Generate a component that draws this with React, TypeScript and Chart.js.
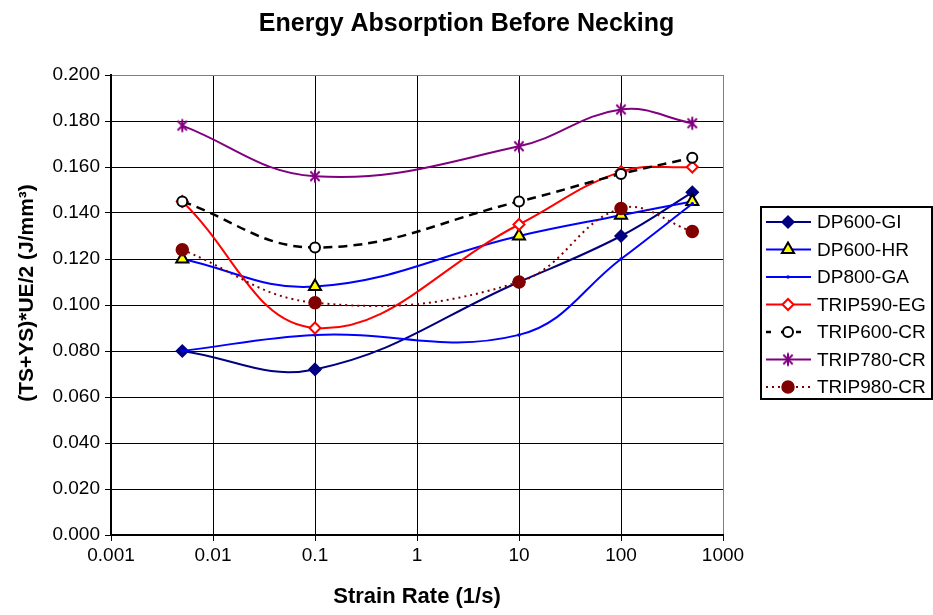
import React, { useEffect, useRef } from 'react';
import { Chart, registerables } from 'chart.js';
import { drawPoint } from 'chart.js/helpers';

Chart.register(...registerables);

const chartTitle = 'Energy Absorption Before Necking';
const xTitle = 'Strain Rate (1/s)';
const yTitle = '(TS+YS)*UE/2 (J/mm³)';

const strainRates = [0.005, 0.1, 10, 100, 500];
const seriesNames = ['DP600-GI', 'DP600-HR', 'DP800-GA', 'TRIP590-EG', 'TRIP600-CR', 'TRIP780-CR', 'TRIP980-CR'];
const dp600GI = [0.080, 0.072, 0.110, 0.130, 0.149];
const dp600HR = [0.120, 0.108, 0.130, 0.139, 0.145];
const dp800GA = [0.080, 0.087, 0.087, 0.120, 0.144];
const trip590EG = [0.145, 0.090, 0.135, 0.158, 0.160];
const trip600CR = [0.145, 0.125, 0.145, 0.157, 0.164];
const trip780CR = [0.178, 0.156, 0.169, 0.185, 0.179];
const trip980CR = [0.124, 0.101, 0.110, 0.142, 0.132];
const xTicks = [0.001, 0.01, 0.1, 1, 10, 100, 1000];
const yTicks = [0, 0.02, 0.04, 0.06, 0.08, 0.1, 0.12, 0.14, 0.16, 0.18, 0.2];

const FONT = '"Liberation Sans", Arial, sans-serif';

function makeStar(color: string, r: number) {
  const size = Math.ceil(r * 2 + 3);
  const c = document.createElement('canvas');
  c.width = size;
  c.height = size;
  const g = c.getContext('2d')!;
  g.strokeStyle = color;
  g.lineWidth = 2;
  const m = size / 2;
  const d = r * 0.72;
  g.beginPath();
  g.moveTo(m - d, m - d);
  g.lineTo(m + d, m + d);
  g.moveTo(m + d, m - d);
  g.lineTo(m - d, m + d);
  g.moveTo(m, m - r);
  g.lineTo(m, m + r);
  g.stroke();
  return c;
}

const decorPlugin = {
  id: 'customDecor',
  afterDraw(chart: any) {
    const ctx = chart.ctx as CanvasRenderingContext2D;
    ctx.save();
    // Title
    ctx.fillStyle = '#000';
    ctx.font = `bold 25px ${FONT}`;
    ctx.textAlign = 'center';
    ctx.textBaseline = 'middle';
    ctx.fillText(chartTitle, chart.width / 2, 24);

    // Y axis title
    ctx.save();
    ctx.translate(27, 293);
    ctx.rotate(-Math.PI / 2);
    ctx.font = `bold 21px ${FONT}`;
    ctx.fillText(yTitle, 0, 0);
    ctx.restore();

    // Legend box
    const bx = 761, by = 207, bw = 171, bh = 192;
    ctx.lineWidth = 2;
    ctx.strokeStyle = '#000';
    ctx.strokeRect(bx, by, bw, bh);
    const rowH = 27.5;
    chart.data.datasets.forEach((ds: any, i: number) => {
      const y = 222 + i * rowH;
      ctx.save();
      ctx.strokeStyle = ds.borderColor;
      ctx.lineWidth = ds.borderWidth;
      ctx.setLineDash(ds.legendDash || ds.borderDash || []);
      ctx.beginPath();
      ctx.moveTo(766, y);
      ctx.lineTo(811, y);
      ctx.stroke();
      ctx.setLineDash([]);
      ctx.fillStyle = ds.pointBackgroundColor;
      ctx.strokeStyle = ds.pointBorderColor;
      ctx.lineWidth = ds.pointBorderWidth;
      drawPoint(ctx, { pointStyle: ds.pointStyle, radius: ds.pointRadius, borderWidth: ds.pointBorderWidth, rotation: 0 }, 788, y);
      ctx.restore();
      ctx.fillStyle = '#000';
      ctx.font = `19px ${FONT}`;
      ctx.textAlign = 'left';
      ctx.textBaseline = 'middle';
      ctx.fillText(ds.label, 817, y + 1);
    });
    ctx.restore();
  },
};

export default function App() {
  const ref = useRef<HTMLCanvasElement | null>(null);
  useEffect(() => {
    if (!ref.current) return;
    const star = makeStar('#800080', 6.5);
    const pts = (vals: number[]) => vals.map((v, i) => ({ x: strainRates[i], y: v }));
    const base = { tension: 0.4, fill: false, borderWidth: 2, pointBorderWidth: 1.5 };
    const datasets: any[] = [
      { ...base, label: seriesNames[0], data: pts(dp600GI), borderColor: '#000080', pointStyle: 'rectRot', pointRadius: 6, pointBackgroundColor: '#000080', pointBorderColor: '#000080' },
      { ...base, label: seriesNames[1], data: pts(dp600HR), borderColor: '#0000FF', pointStyle: 'triangle', pointRadius: 7, pointBackgroundColor: '#FFFF00', pointBorderColor: '#000000', pointBorderWidth: 2 },
      { ...base, label: seriesNames[2], data: pts(dp800GA), borderColor: '#0000FF', pointStyle: 'circle', pointRadius: 1, pointBackgroundColor: '#0000FF', pointBorderColor: '#0000FF' },
      { ...base, label: seriesNames[3], data: pts(trip590EG), borderColor: '#FF0000', pointStyle: 'rectRot', pointRadius: 5.5, pointBackgroundColor: '#FFFFFF', pointBorderColor: '#FF0000', pointBorderWidth: 2 },
      { ...base, label: seriesNames[4], data: pts(trip600CR), borderColor: '#000000', borderWidth: 2.5, borderDash: [9, 6], legendDash: [5, 10], pointStyle: 'circle', pointRadius: 5, pointBackgroundColor: '#FFFFFF', pointBorderColor: '#000000', pointBorderWidth: 2 },
      { ...base, label: seriesNames[5], data: pts(trip780CR), borderColor: '#800080', pointStyle: star, pointRadius: 6, pointBackgroundColor: '#800080', pointBorderColor: '#800080' },
      { ...base, label: seriesNames[6], data: pts(trip980CR), borderColor: '#800000', borderDash: [2, 4], pointStyle: 'circle', pointRadius: 6, pointBackgroundColor: '#800000', pointBorderColor: '#800000' },
    ];
    datasets.forEach((d, i) => { d.order = datasets.length - i; });

    const chart = new Chart(ref.current, {
      type: 'line',
      data: { datasets },
      options: {
        responsive: false,
        animation: false,
        devicePixelRatio: 1,
        layout: { padding: { left: 0, top: 75, right: 210, bottom: 0 } },
        plugins: { legend: { display: false }, title: { display: false }, tooltip: { enabled: false } },
        scales: {
          x: {
            type: 'logarithmic',
            min: 0.001,
            max: 1000,
            afterBuildTicks: (s: any) => { s.ticks = xTicks.map((v) => ({ value: v })); },
            afterFit: (s: any) => { s.height = 80; },
            ticks: {
              autoSkip: false,
              maxRotation: 0,
              color: '#000',
              font: { family: FONT, size: 19 },
              padding: 3,
              callback: (v: any) => String(v),
            },
            grid: {
              color: (c: any) => (c.tick && c.tick.value >= 1000 ? '#808080' : '#000000'),
              tickColor: '#000',
              lineWidth: 1,
              tickLength: 6,
            },
            border: { color: '#000', width: 2 },
            title: { display: true, text: xTitle, color: '#000', font: { family: FONT, size: 22, weight: 'bold' }, padding: { top: 0, bottom: 5 } },
          },
          y: {
            type: 'linear',
            min: 0,
            max: 0.2,
            afterBuildTicks: (s: any) => { s.ticks = yTicks.map((v) => ({ value: v })); },
            afterFit: (s: any) => { s.width = 111; },
            ticks: {
              color: '#000',
              font: { family: FONT, size: 19 },
              padding: 5,
              callback: (v: any) => Number(v).toFixed(3),
            },
            grid: {
              color: (c: any) => (c.tick && c.tick.value >= 0.2 - 1e-9 ? '#808080' : '#000000'),
              tickColor: '#000',
              lineWidth: 1,
              tickLength: 6,
            },
            border: { color: '#000', width: 2 },
            title: { display: false },
          },
        },
      } as any,
      plugins: [decorPlugin],
    });
    return () => chart.destroy();
  }, []);
  return (
    <div style={{ position: 'fixed', left: 0, top: 0, width: 933, height: 615, background: '#fff' }}>
      <canvas ref={ref} width={933} height={615} style={{ display: 'block' }} />
    </div>
  );
}
